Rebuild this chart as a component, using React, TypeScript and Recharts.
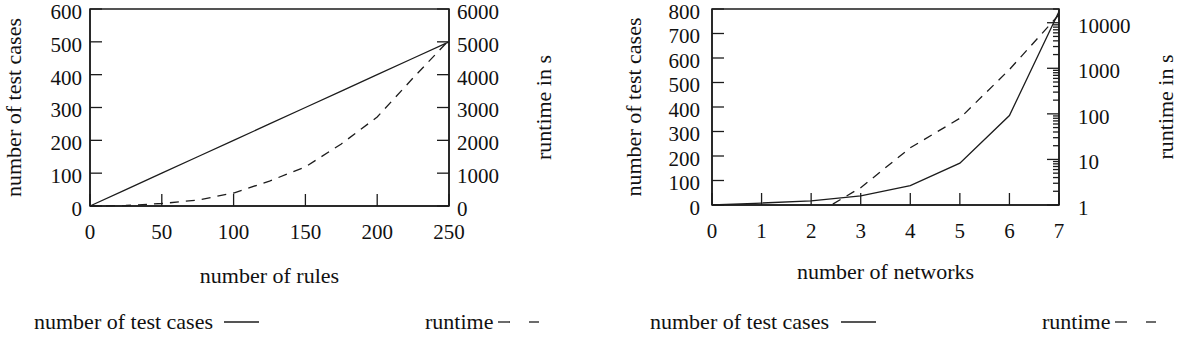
import { LineChart, Line, XAxis, YAxis, ReferenceArea } from 'recharts';

// left panel: number of rules
const rules = [0, 25, 50, 75, 100, 125, 150, 175, 200, 225, 250];
const rulesTestCases = [0, 50, 100, 150, 200, 250, 300, 350, 400, 450, 500];
const rulesRuntime = [0, 15, 76, 180, 396, 760, 1190, 1890, 2710, 3900, 5050];
const rulesTicks = [0, 50, 100, 150, 200, 250];
const rulesCaseTicks = [0, 100, 200, 300, 400, 500, 600];
const rulesTimeTicks = [0, 1000, 2000, 3000, 4000, 5000, 6000];

// right panel: number of networks
const networks = [0, 1, 2, 3, 4, 5, 6, 7];
const netTestCases = [0, 8, 17, 37, 79, 171, 365, 790];
const netRuntime = [0.02, 0.1, 0.55, 2.4, 18, 80, 940, 15000];
const netTicks = [0, 1, 2, 3, 4, 5, 6, 7];
const netCaseTicks = [0, 100, 200, 300, 400, 500, 600, 700, 800];
const netTimeTicks = [
  1, 2, 3, 4, 5, 6, 7, 8, 9,
  10, 20, 30, 40, 50, 60, 70, 80, 90,
  100, 200, 300, 400, 500, 600, 700, 800, 900,
  1000, 2000, 3000, 4000, 5000, 6000, 7000, 8000, 9000,
  10000, 20000,
];

const rulesData = rules.map((r, i) => ({ x: r, cases: rulesTestCases[i], time: rulesRuntime[i] }));
const netData = networks.map((n, i) => ({ x: n, cases: netTestCases[i], time: netRuntime[i] }));

const FONT = '"Liberation Serif", "DejaVu Serif", serif';
const INK = '#1c1c1c';
const TICK_FS = 21;
const TITLE_FS = 22;
const isPow10 = (v: number) => Math.abs(Math.log10(v) - Math.round(Math.log10(v))) < 1e-9;

type Side = 'left' | 'right' | 'bottom';

// gnuplot-style ticks: marks point into the plot, labels outside
const makeTick = (side: Side, gap: number, len: (v: number) => number, show: (v: number) => boolean) =>
  (props: any) => {
    const { x, y, payload } = props;
    const v = payload.value;
    const l = len(v);
    const txt = show(v) ? String(v) : '';
    if (side === 'bottom') {
      const ay = y - gap;
      return (
        <g>
          <line x1={x} x2={x} y1={ay} y2={ay - l} stroke={INK} strokeWidth={1.3} />
          <text x={x} y={ay + 26} dy="0.35em" textAnchor="middle" fontFamily={FONT} fontSize={TICK_FS} fill="#111">{txt}</text>
        </g>
      );
    }
    if (side === 'left') {
      const ax = x + gap;
      return (
        <g>
          <line x1={ax} x2={ax + l} y1={y} y2={y} stroke={INK} strokeWidth={1.3} />
          <text x={x} y={y} dy="0.47em" textAnchor="end" fontFamily={FONT} fontSize={TICK_FS} fill="#111">{txt}</text>
        </g>
      );
    }
    const ax = x - gap;
    return (
      <g>
        <line x1={ax} x2={ax - l} y1={y} y2={y} stroke={INK} strokeWidth={1.3} />
        <text x={x} y={y} dy="0.47em" textAnchor="start" fontFamily={FONT} fontSize={TICK_FS} fill="#111">{txt}</text>
      </g>
    );
  };

const vTitle = (text: string, dx: number) => (props: any) => {
  const vb = props.viewBox;
  const cx = vb.x + dx;
  const cy = vb.y + vb.height / 2;
  return (
    <text x={cx} y={cy} transform={`rotate(-90 ${cx} ${cy})`} textAnchor="middle" dy="0.35em"
      fontFamily={FONT} fontSize={TITLE_FS} fill="#111">{text}</text>
  );
};

const hTitle = (text: string, dy: number) => (props: any) => {
  const vb = props.viewBox;
  return (
    <text x={vb.x + vb.width / 2} y={vb.y + dy} textAnchor="middle" dy="0.35em"
      fontFamily={FONT} fontSize={TITLE_FS} fill="#111">{text}</text>
  );
};

const major = () => 12;
const always = () => true;

const Legend = ({ x1, x2, solid, dash }: { x1: number; x2: number; solid: number; dash: number[] }) => (
  <g fontFamily={FONT} fontSize={TITLE_FS} fill="#111">
    <text x={x1} y={321} dy="0.35em">number of test cases</text>
    <line x1={solid} x2={solid + 35} y1={322} y2={322} stroke={INK} strokeWidth={1.3} />
    <text x={x2} y={321} dy="0.35em">runtime</text>
    <line x1={dash[0]} x2={dash[0] + 12} y1={322} y2={322} stroke={INK} strokeWidth={1.3} />
    <line x1={dash[1]} x2={dash[1] + 10} y1={322} y2={322} stroke={INK} strokeWidth={1.3} />
  </g>
);

const frame = { stroke: INK, strokeWidth: 1.5 };

export default function App() {
  return (
    <div style={{ position: 'absolute', left: 0, top: 0, width: 1185, height: 338, background: '#fff', fontFamily: FONT }}>
      <div style={{ position: 'absolute', left: 0, top: 0 }}>
        <LineChart width={592} height={338} data={rulesData} margin={{ top: 9, right: 0, bottom: 0, left: 0 }}>
          <XAxis dataKey="x" type="number" domain={[0, 250]} ticks={rulesTicks} interval={0}
            height={132} tickSize={0} tickMargin={0} axisLine={frame} tickLine={false}
            tick={makeTick('bottom', 0, major, always)}
            label={{ content: hTitle('number of rules', 69) }} />
          <YAxis yAxisId="cases" orientation="left" type="number" domain={[0, 600]} ticks={rulesCaseTicks} interval={0}
            width={90} tickSize={0} tickMargin={8} axisLine={frame} tickLine={false}
            tick={makeTick('left', 8, major, always)}
            label={{ content: vTitle('number of test cases', 13) }} />
          <YAxis yAxisId="time" orientation="right" type="number" domain={[0, 6000]} ticks={rulesTimeTicks} interval={0}
            width={143} tickSize={0} tickMargin={8} axisLine={frame} tickLine={false}
            tick={makeTick('right', 8, major, always)}
            label={{ content: vTitle('runtime in s', 94) }} />
          <ReferenceArea yAxisId="cases" x1={0} x2={250} y1={0} y2={600} fill="none" {...frame} />
          <Line yAxisId="cases" dataKey="cases" stroke={INK} strokeWidth={1.3} dot={false} isAnimationActive={false} />
          <Line yAxisId="time" dataKey="time" stroke={INK} strokeWidth={1.3} strokeDasharray="9 7" dot={false} isAnimationActive={false} />
        </LineChart>
      </div>
      <div style={{ position: 'absolute', left: 592, top: 0 }}>
        <LineChart width={593} height={338} data={netData} margin={{ top: 9, right: 0, bottom: 0, left: 0 }}>
          <XAxis dataKey="x" type="number" domain={[0, 7]} ticks={netTicks} interval={0}
            height={133} tickSize={0} tickMargin={0} axisLine={frame} tickLine={false}
            tick={makeTick('bottom', 0, major, always)}
            label={{ content: hTitle('number of networks', 66) }} />
          <YAxis yAxisId="cases" orientation="left" type="number" domain={[0, 800]} ticks={netCaseTicks} interval={0}
            width={120} tickSize={0} tickMargin={12} axisLine={frame} tickLine={false}
            tick={makeTick('left', 12, major, always)}
            label={{ content: vTitle('number of test cases', 41) }} />
          <YAxis yAxisId="time" orientation="right" type="number" scale="log" domain={[1, 20000]} allowDataOverflow
            ticks={netTimeTicks} interval={0}
            width={126} tickSize={0} tickMargin={19} axisLine={frame} tickLine={false}
            tick={makeTick('right', 19, (v) => (isPow10(v) ? 12 : 6), isPow10)}
            label={{ content: vTitle('runtime in s', 106) }} />
          <ReferenceArea yAxisId="cases" x1={0} x2={7} y1={0} y2={800} fill="none" {...frame} />
          <Line yAxisId="cases" dataKey="cases" stroke={INK} strokeWidth={1.3} dot={false} isAnimationActive={false} />
          <Line yAxisId="time" dataKey="time" stroke={INK} strokeWidth={1.3} strokeDasharray="9 7" dot={false} isAnimationActive={false} />
        </LineChart>
      </div>
      <svg width={1185} height={338} style={{ position: 'absolute', left: 0, top: 0, pointerEvents: 'none' }}>
        <Legend x1={34} x2={425} solid={224} dash={[498, 529]} />
        <Legend x1={650} x2={1042} solid={841} dash={[1115, 1146]} />
      </svg>
    </div>
  );
}
